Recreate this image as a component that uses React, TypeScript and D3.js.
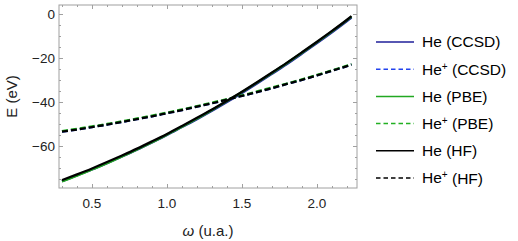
import React, { useRef, useEffect } from 'react';
import * as d3 from 'd3';

// omega grid (u.a.)
const omega = [0.3, 0.4, 0.5, 0.6, 0.7, 0.8, 0.9, 1.0, 1.1, 1.2, 1.3, 1.4, 1.5, 1.6, 1.7, 1.8, 1.9, 2.0, 2.1, 2.2, 2.23];

// He, solid lines (eV)
const heHF = [-75.5, -72.9, -70.2, -67.3, -64.3, -61.2, -57.9, -54.5, -50.9, -47.2, -43.4, -39.4, -35.3, -31.0, -26.6, -22.1, -17.4, -12.6, -7.7, -2.6, -1.0];
const heCCSD = [-76.0, -73.4, -70.7, -67.8, -64.8, -61.7, -58.4, -55.0, -51.4, -47.8, -44.0, -40.0, -35.9, -31.6, -27.2, -22.7, -18.0, -13.2, -8.3, -3.2, -1.6];
const hePBE = [-76.1, -73.5, -70.7, -67.8, -64.7, -61.6, -58.3, -54.8, -51.2, -47.5, -43.6, -39.6, -35.5, -31.2, -26.8, -22.3, -17.6, -12.8, -7.9, -2.8, -1.2];

// He+, dashed lines (eV)
const hepHF = [-53.5, -52.5, -51.4, -50.3, -49.1, -47.8, -46.5, -45.1, -43.7, -42.1, -40.6, -38.9, -37.2, -35.5, -33.7, -31.8, -29.9, -27.9, -25.8, -23.7, -23.0];
const hepCCSD = hepHF;
const hepPBE = [-53.2, -52.2, -51.1, -50.0, -48.8, -47.5, -46.2, -44.8, -43.4, -41.9, -40.3, -38.7, -37.0, -35.2, -33.4, -31.6, -29.7, -27.7, -25.6, -23.5, -22.8];

const xTicks = [0.5, 1.0, 1.5, 2.0];
const yTicks = [0, -20, -40, -60];

const series = [
  { label: 'He', method: 'CCSD', values: heCCSD, color: '#1f1f9a', dash: false },
  { label: 'He+', method: 'CCSD', values: hepCCSD, color: '#2243ee', dash: true },
  { label: 'He', method: 'PBE', values: hePBE, color: '#22a822', dash: false },
  { label: 'He+', method: 'PBE', values: hepPBE, color: '#22b022', dash: true },
  { label: 'He', method: 'HF', values: heHF, color: '#000000', dash: false },
  { label: 'He+', method: 'HF', values: hepHF, color: '#000000', dash: true },
];

const W = 518, H = 241;
const left = 59, right = 357, top = 5, bottom = 188;

const App = () => {
  const svgRef = useRef(null);

  useEffect(() => {
    const svg = d3.select(svgRef.current);
    svg.selectAll('*').remove();

    const x = d3.scaleLinear().domain([0.28, 2.2667]).range([left, right]);
    const y = d3.scaleLinear().domain([4.09, -79.09]).range([top, bottom]);

    const font = 'Liberation Sans, Arial, sans-serif';
    const frameColor = '#a0a0a0';

    // curves
    const line = d3.line().curve(d3.curveMonotoneX);
    series.forEach(s => {
      svg.append('path')
        .attr('d', line(omega.map((w, i) => [x(w), y(s.values[i])])))
        .attr('fill', 'none')
        .attr('stroke', s.color)
        .attr('stroke-width', 2.3)
        .attr('stroke-dasharray', s.dash ? '6,3' : null);
    });

    // frame
    svg.append('rect')
      .attr('x', left).attr('y', top)
      .attr('width', right - left).attr('height', bottom - top)
      .attr('fill', 'none').attr('stroke', frameColor).attr('stroke-width', 1);

    const g = svg.append('g').attr('stroke', frameColor).attr('stroke-width', 1);

    // x ticks
    d3.range(3, 23).map(i => i / 10).forEach(t => {
      const major = xTicks.some(m => Math.abs(m - t) < 1e-6);
      const len = major ? 4 : 2;
      const px = Math.round(x(t)) + 0.5;
      g.append('line').attr('x1', px).attr('x2', px).attr('y1', bottom).attr('y2', bottom - len);
      g.append('line').attr('x1', px).attr('x2', px).attr('y1', top).attr('y2', top + len);
    });
    // y ticks
    d3.range(0, 16).map(i => -i * 5).forEach(t => {
      const major = yTicks.includes(t);
      const len = major ? 4 : 2;
      const py = Math.round(y(t)) + 0.5;
      g.append('line').attr('x1', left).attr('x2', left + len).attr('y1', py).attr('y2', py);
      g.append('line').attr('x1', right).attr('x2', right - len).attr('y1', py).attr('y2', py);
    });

    // tick labels
    xTicks.forEach(t => {
      svg.append('text')
        .attr('x', x(t)).attr('y', 208)
        .attr('text-anchor', 'middle')
        .attr('font-family', font).attr('font-size', 13.5).attr('fill', '#222')
        .text(t.toFixed(1));
    });
    yTicks.forEach(t => {
      svg.append('text')
        .attr('x', 55).attr('y', y(t))
        .attr('dy', '0.35em')
        .attr('text-anchor', 'end')
        .attr('font-family', font).attr('font-size', 13.5).attr('fill', '#222')
        .text(t === 0 ? '0' : '\u2212' + Math.abs(t));
    });

    // axis labels
    const xl = svg.append('text')
      .attr('x', (left + right) / 2).attr('y', 236)
      .attr('text-anchor', 'middle')
      .attr('font-family', font).attr('font-size', 15).attr('fill', '#222');
    xl.append('tspan').attr('font-style', 'italic').text('\u03c9');
    xl.append('tspan').text(' (u.a.)');

    svg.append('text')
      .attr('transform', `translate(17, ${(top + bottom) / 2}) rotate(-90)`)
      .attr('text-anchor', 'middle')
      .attr('font-family', font).attr('font-size', 15).attr('fill', '#222')
      .text('E (eV)');

    // legend
    series.forEach((s, i) => {
      const ly = 42 + i * 27.2;
      svg.append('line')
        .attr('x1', 376).attr('x2', 414).attr('y1', ly).attr('y2', ly)
        .attr('stroke', s.color).attr('stroke-width', 1.5)
        .attr('stroke-dasharray', s.dash ? '4.5,3' : null);
      const t = svg.append('text')
        .attr('x', 422).attr('y', ly).attr('dy', '0.35em')
        .attr('font-family', font).attr('font-size', 15.5).attr('fill', '#000');
      t.append('tspan').text('He');
      if (s.dash) {
        t.append('tspan').attr('font-size', 10).attr('dy', '-0.5em').text('+');
        t.append('tspan').attr('dy', '0.33em').text(' (' + s.method + ')');
      } else {
        t.append('tspan').text(' (' + s.method + ')');
      }
    });
  }, []);

  return (
    <svg ref={svgRef} width={W} height={H} style={{ position: 'absolute', left: 0, top: 0, background: '#fff' }}></svg>
  );
};

export default App;
